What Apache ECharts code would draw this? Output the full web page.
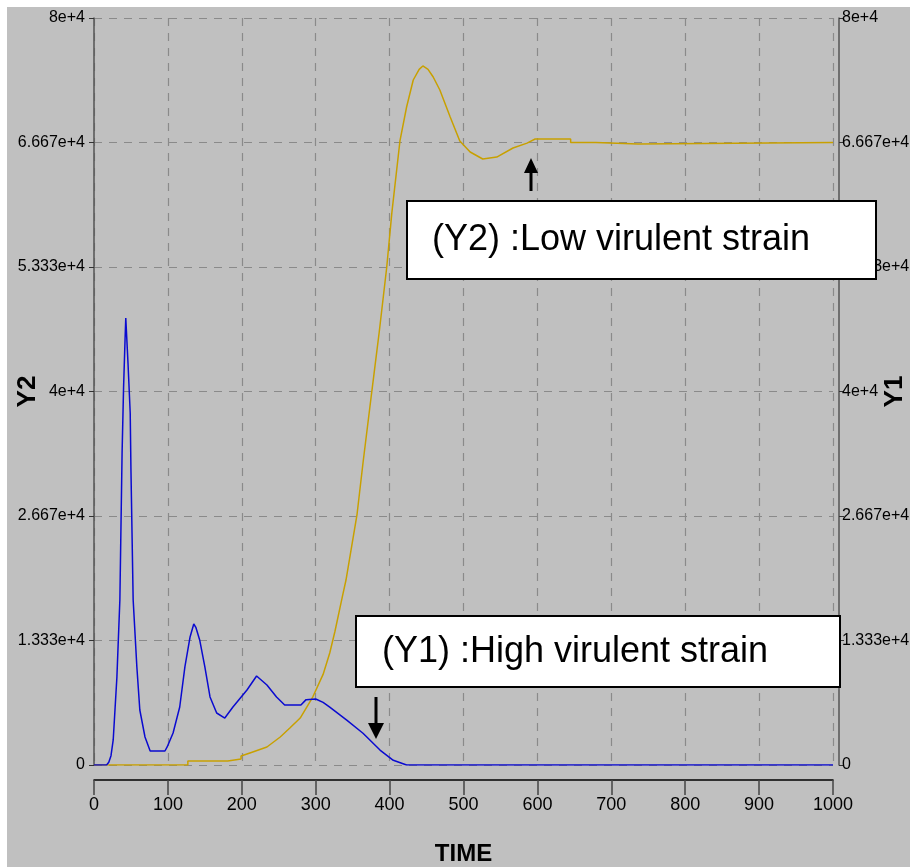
<!DOCTYPE html>
<html>
<head>
<meta charset="utf-8">
<script src="https://cdn.jsdelivr.net/npm/echarts@6/dist/echarts.min.js"></script>
<style>html,body{margin:0;padding:0;background:#fff}#c{width:910px;height:867px}</style>
</head>
<body>
<div id="c"></div>
<script>
// ---- data ----
const xTicks = [0,100,200,300,400,500,600,700,800,900,1000];
const yTickLabels = ['0','1.333e+4','2.667e+4','4e+4','5.333e+4','6.667e+4','8e+4'];
// Y2 : low virulent strain (left axis) [TIME, value]
const lowVirulent = [[0,0],[127,0],[127,430],[181,430],[181,640],[199,640],[199,960],[211,1290],[234,1930],[252,3000],[265,3960],[279,5030],[296,7280],[310,9700],[319,12000],[326,14300],[336,18000],[341,19810],[356,26880],[364,32340],[376,40050],[386,46400],[396,53230],[403,59110],[414,66830],[423,70470],[432,73360],[440,74500],[445,74860],[452,74500],[459,73680],[468,72290],[482,69400],[495,66830],[509,65650],[526,64900],[545,65110],[567,66080],[586,66600],[597,67040],[645,67040],[645,66670],[679,66670],[679,66500],[736,66500],[736,66670],[1000,66670]];
// Y1 : high virulent strain (right axis)
const highVirulent = [[0,0],[17,0],[20,300],[23,1000],[26,2680],[31,9420],[35,17670],[38,33400],[40,40370],[42,45500],[43,47870],[45,47870],[46,43050],[49,37700],[50,31600],[53,17670],[58,10500],[62,5890],[69,3000],[76,1500],[96,1500],[99,1930],[107,3430],[116,6210],[123,10500],[130,13710],[135,15100],[138,14700],[143,13390],[150,10500],[157,7290],[166,5570],[177,5030],[188,6210],[207,8030],[220,9530],[234,8570],[247,7290],[258,6430],[280,6430],[287,7000],[300,7070],[310,6700],[319,6200],[342,4800],[364,3400],[387,1600],[405,500],[423,0],[1000,0]];
const yMax = 80000, ySteps = 6;
const xName = 'TIME', y1Name = 'Y1', y2Name = 'Y2';
const note1 = '(Y1) :High virulent strain';
const note2 = '(Y2) :Low virulent strain';

// ---- chart ----
const sans = "'Liberation Sans', Arial, sans-serif";
const yInterval = yMax / ySteps;
function yFmt(v){ return yTickLabels[Math.round(v / yInterval)] || ''; }
function yAxis(pos, name){
  return {
    type:'value', position:pos, min:0, max:yMax, interval:yInterval, offset: pos==='left'?7:6,
    name:name, nameLocation:'middle', nameRotate:90, nameGap: pos==='left'?46:43, nameMoveOverlap:false,
    nameTextStyle:{fontSize:26, fontWeight:'bold', color:'#000', fontFamily:sans},
    axisLine:{show:true, lineStyle:{color:'#555', width:1.5}},
    axisTick:{show:true, length:5, lineStyle:{color:'#333'}},
    axisLabel:{formatter:yFmt, color:'#000', fontSize:16, margin:pos==='left'?2:3, fontFamily:sans},
    splitLine:{show: pos==='left', lineStyle:{color:'#8a8a8a', type:[8,7], width:1.2}}
  };
}
const chart = echarts.init(document.getElementById('c'), null, {renderer:'canvas'});
chart.setOption({
  backgroundColor:'#c0c0c0',
  animation:false,
  grid:{left:94, right:77, top:18, bottom:102, containLabel:false, outerBoundsMode:'none'},
  xAxis:{
    type:'value', min:xTicks[0], max:xTicks[xTicks.length-1], interval:xTicks[1]-xTicks[0], offset:15,
    name:xName, nameLocation:'middle', nameGap:62, nameMoveOverlap:false,
    nameTextStyle:{fontSize:24, fontWeight:'bold', color:'#000', fontFamily:sans},
    axisLine:{show:true, onZero:false, lineStyle:{color:'#000', width:1.5}},
    axisTick:{show:true, length:15, lineStyle:{color:'#444', width:1.5}},
    axisLabel:{color:'#000', fontSize:18, margin:16, fontFamily:sans, formatter:function(v){return String(v);}},
    splitLine:{show:true, lineStyle:{color:'#8a8a8a', type:[8,7], width:1.2}}
  },
  yAxis:[yAxis('left', y2Name), yAxis('right', y1Name)],
  series:[
    {name:'Y2', type:'line', yAxisIndex:0, data:lowVirulent, showSymbol:false,
     lineStyle:{color:'#c8a000', width:1.5}, itemStyle:{color:'#c8a000'}},
    {name:'Y1', type:'line', yAxisIndex:1, data:highVirulent, showSymbol:false,
     lineStyle:{color:'#0a0ad0', width:1.5}, itemStyle:{color:'#0a0ad0'}}
  ],
  graphic:[
    {type:'rect', shape:{x:0,y:0,width:910,height:7}, style:{fill:'#fff'}, z:100},
    {type:'rect', shape:{x:0,y:0,width:7,height:867}, style:{fill:'#fff'}, z:100},
    {type:'rect', shape:{x:407,y:201,width:469,height:78}, style:{fill:'#fff', stroke:'#000', lineWidth:2}, z:100},
    {type:'text', x:432, y:240, style:{text:note2, fontSize:36, fill:'#000', fontFamily:sans, verticalAlign:'middle'}, z:101},
    {type:'rect', shape:{x:356,y:616,width:484,height:71}, style:{fill:'#fff', stroke:'#000', lineWidth:2}, z:100},
    {type:'text', x:382, y:652, style:{text:note1, fontSize:36, fill:'#000', fontFamily:sans, verticalAlign:'middle'}, z:101},
    {type:'line', shape:{x1:531,y1:191,x2:531,y2:170}, style:{stroke:'#000', lineWidth:3}, z:100},
    {type:'polygon', shape:{points:[[524,173],[538,173],[531,158]]}, style:{fill:'#000'}, z:100},
    {type:'line', shape:{x1:376,y1:697,x2:376,y2:726}, style:{stroke:'#000', lineWidth:3}, z:100},
    {type:'polygon', shape:{points:[[368,723],[384,723],[376,739]]}, style:{fill:'#000'}, z:100}
  ]
});
</script>
</body>
</html>
